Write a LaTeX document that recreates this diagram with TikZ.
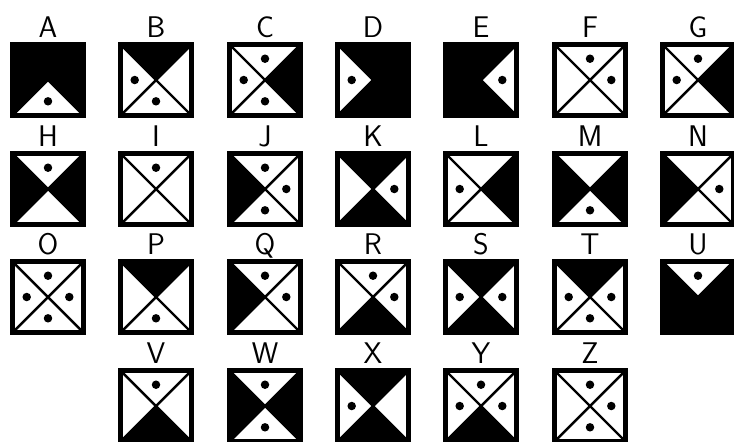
\documentclass[tikz,border=0pt]{standalone}
\usepackage{tikz}
\usetikzlibrary{calc}

\tikzset{
  sq/.style={minimum size=1.42cm,inner sep=0pt,outer sep=0pt},
  part b/.style={fill=black},
  part w/.style={fill=white},
  part d/.style={fill=white},
  spot b/.style={fill=none},
  spot w/.style={fill=none},
  spot d/.style={fill=black},
  diag/.style={line width=1.4pt},
  frame/.style={line width=2.4pt},
  lab/.style={anchor=base,inner sep=0pt,font=\fontsize{17}{17}\selectfont\sffamily}
}

\begin{document}
\begin{tikzpicture}[x=0.02cm,y=-0.02cm]
  \useasboundingbox[fill=white] (0,0) rectangle (734,441);
  \foreach \cx/\cy/\n/\sN/\sW/\sE/\sS in {
    48/80/A/b/b/b/d, 156/80/B/b/d/w/d, 265/80/C/d/d/b/d, 373/80/D/b/d/b/b,
    481/80/E/b/b/d/b, 590/80/F/d/w/d/w, 698/80/G/d/d/b/w,
    48/189/H/d/b/b/w, 156/189/I/d/w/w/w, 265/189/J/d/b/d/d, 373/189/K/b/w/d/b,
    481/189/L/w/d/b/w, 590/189/M/w/b/b/d, 698/189/N/w/b/d/w,
    48/297/O/d/d/d/d, 156/297/P/b/w/w/d, 265/297/Q/d/b/d/w, 373/297/R/d/w/d/b,
    481/297/S/b/d/d/b, 590/297/T/b/d/d/d, 698/297/U/d/b/b/b,
    156/406/V/d/w/w/b, 265/406/W/d/b/b/d, 373/406/X/b/d/w/b,
    481/406/Y/d/d/d/b, 590/406/Z/d/w/d/d}
  {
    \node[sq] (\n) at (\cx,\cy) {};
    \node[lab] (lab\n) at (\cx,\cy-43) {\n};
    % four triangles
    \fill[part \sN] (\n.north west) -- (\n.north east) -- (\n.center) -- cycle;
    \fill[part \sW] (\n.north west) -- (\n.south west) -- (\n.center) -- cycle;
    \fill[part \sE] (\n.north east) -- (\n.south east) -- (\n.center) -- cycle;
    \fill[part \sS] (\n.south west) -- (\n.south east) -- (\n.center) -- cycle;
    \draw[diag] (\n.north west) -- (\n.south east) (\n.north east) -- (\n.south west);
    % dots
    \fill[spot \sN] ($(\n.center)!0.6!(\n.north)$) circle[radius=0.085cm];
    \fill[spot \sW] ($(\n.center)!0.6!(\n.west)$) circle[radius=0.085cm];
    \fill[spot \sE] ($(\n.center)!0.6!(\n.east)$) circle[radius=0.085cm];
    \fill[spot \sS] ($(\n.center)!0.6!(\n.south)$) circle[radius=0.085cm];
    \draw[frame] (\n.north west) rectangle (\n.south east);
  }
\end{tikzpicture}
\end{document}
